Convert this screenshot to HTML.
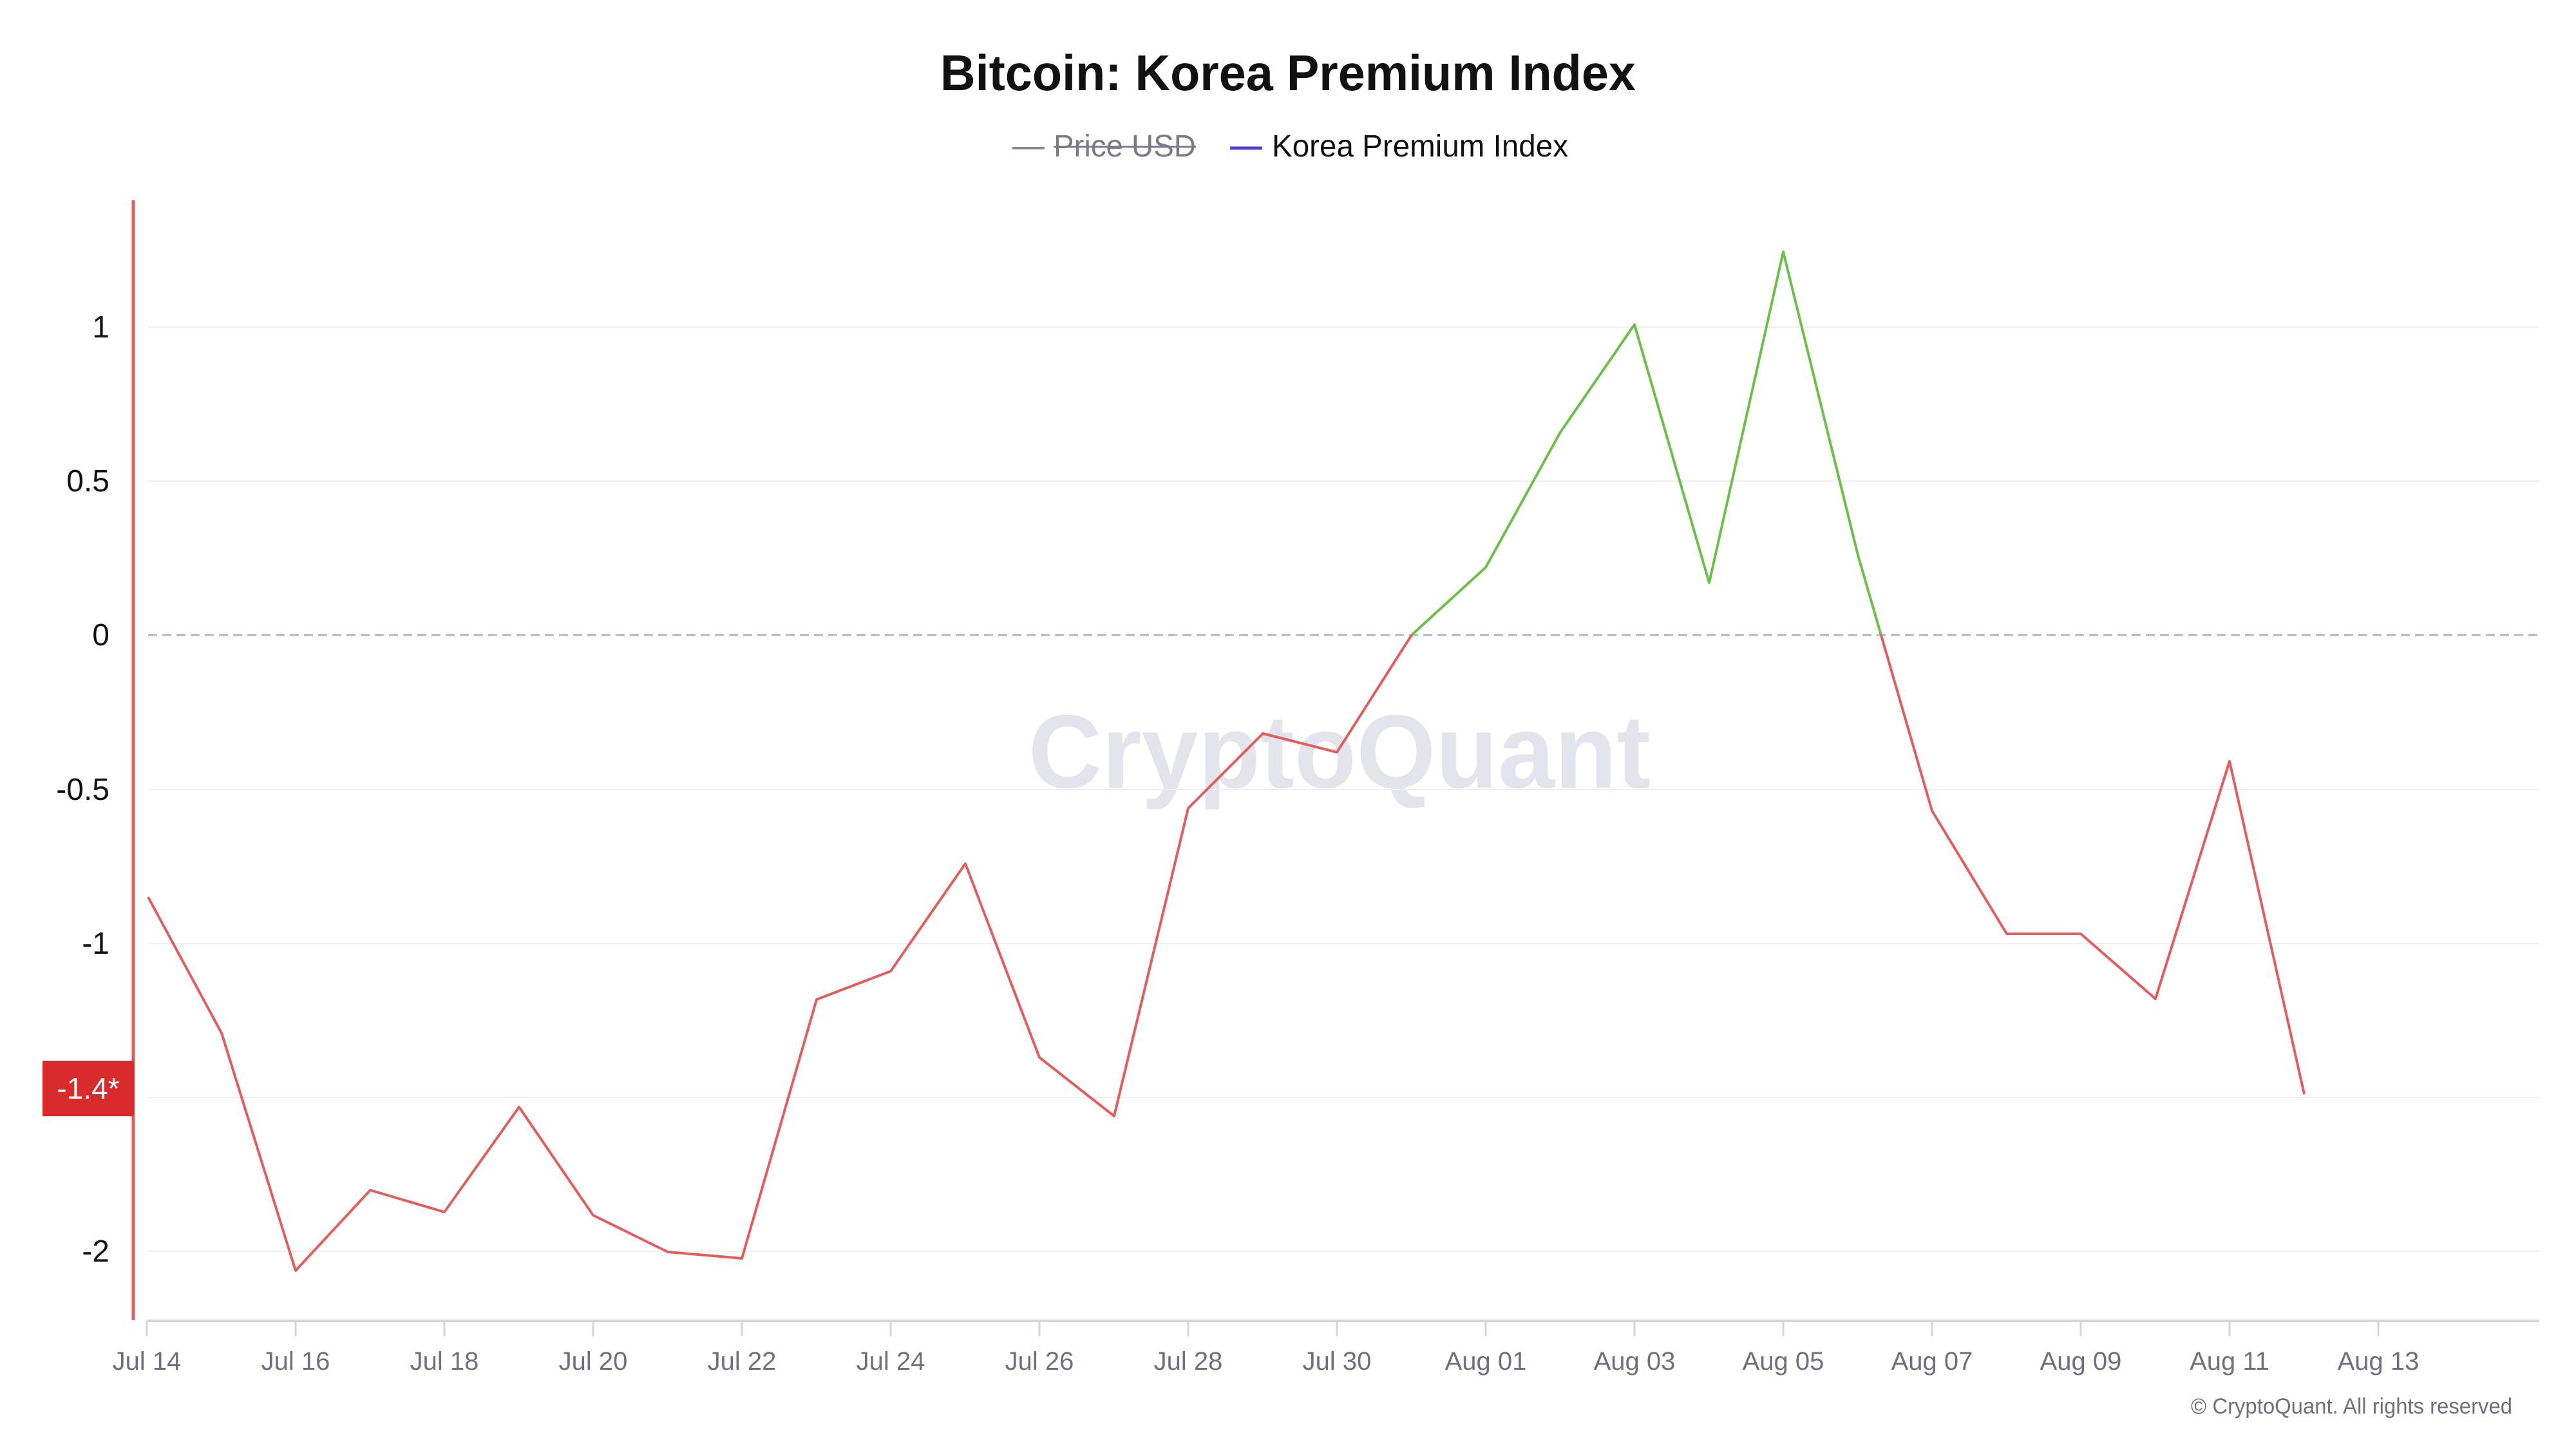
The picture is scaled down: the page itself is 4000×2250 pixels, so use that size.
<!DOCTYPE html>
<html><head><meta charset="utf-8"><style>html,body{margin:0;padding:0;background:#fff}svg{display:block}</style></head>
<body>
<svg width="4000" height="2250" viewBox="0 0 4000 2250" xmlns="http://www.w3.org/2000/svg" font-family="Liberation Sans, sans-serif">
<defs>
<clipPath id="above"><rect x="0" y="0" width="4000" height="986"/></clipPath>
<clipPath id="below"><rect x="0" y="986" width="4000" height="1300"/></clipPath>
</defs>
<text x="2000" y="140" text-anchor="middle" font-size="78" font-weight="bold" fill="#111" textLength="1080" lengthAdjust="spacingAndGlyphs">Bitcoin: Korea Premium Index</text>
<line x1="1572" y1="230" x2="1622" y2="230" stroke="#888894" stroke-width="4"/>
<text x="1636" y="243" font-size="48" fill="#7a7a88" textLength="221" lengthAdjust="spacingAndGlyphs">Price USD</text>
<line x1="1636" y1="228" x2="1857" y2="228" stroke="#7a7a88" stroke-width="3"/>
<line x1="1910" y1="230" x2="1960" y2="230" stroke="#4b3ee0" stroke-width="5"/>
<text x="1975" y="243" font-size="48" fill="#111" textLength="460" lengthAdjust="spacingAndGlyphs">Korea Premium Index</text>
<text x="2080" y="1223" text-anchor="middle" font-size="162" font-weight="bold" fill="#e4e4ec" textLength="966" lengthAdjust="spacingAndGlyphs">CryptoQuant</text>
<g stroke="#f0f0f3" stroke-width="2">
<line x1="230" y1="508" x2="3943" y2="508"/>
<line x1="230" y1="747" x2="3943" y2="747"/>
<line x1="230" y1="1226" x2="3943" y2="1226"/>
<line x1="230" y1="1465" x2="3943" y2="1465"/>
<line x1="230" y1="1704" x2="3943" y2="1704"/>
<line x1="230" y1="1943" x2="3943" y2="1943"/>
</g>
<line x1="230" y1="986" x2="3943" y2="986" stroke="#b4b4c4" stroke-width="3" stroke-dasharray="14,8"/>
<g font-size="48" fill="#111" text-anchor="end">
<text x="170" y="524">1</text>
<text x="170" y="763">0.5</text>
<text x="170" y="1002">0</text>
<text x="170" y="1242">-0.5</text>
<text x="170" y="1481">-1</text>
<text x="170" y="1959">-2</text>
</g>
<line x1="228" y1="2051" x2="3943" y2="2051" stroke="#d4d4de" stroke-width="4"/>
<g stroke="#d4d4de" stroke-width="3">
<line x1="228" y1="2051" x2="228" y2="2075"/><line x1="459" y1="2051" x2="459" y2="2075"/><line x1="690" y1="2051" x2="690" y2="2075"/><line x1="921" y1="2051" x2="921" y2="2075"/><line x1="1152" y1="2051" x2="1152" y2="2075"/><line x1="1383" y1="2051" x2="1383" y2="2075"/><line x1="1614" y1="2051" x2="1614" y2="2075"/><line x1="1845" y1="2051" x2="1845" y2="2075"/><line x1="2076" y1="2051" x2="2076" y2="2075"/><line x1="2307" y1="2051" x2="2307" y2="2075"/><line x1="2538" y1="2051" x2="2538" y2="2075"/><line x1="2769" y1="2051" x2="2769" y2="2075"/><line x1="3000" y1="2051" x2="3000" y2="2075"/><line x1="3231" y1="2051" x2="3231" y2="2075"/><line x1="3462" y1="2051" x2="3462" y2="2075"/><line x1="3693" y1="2051" x2="3693" y2="2075"/>
</g>
<g font-size="40" fill="#6f6f80" text-anchor="middle">
<text x="228" y="2127">Jul 14</text><text x="459" y="2127">Jul 16</text><text x="690" y="2127">Jul 18</text><text x="921" y="2127">Jul 20</text><text x="1152" y="2127">Jul 22</text><text x="1383" y="2127">Jul 24</text><text x="1614" y="2127">Jul 26</text><text x="1845" y="2127">Jul 28</text><text x="2076" y="2127">Jul 30</text><text x="2307" y="2127">Aug 01</text><text x="2538" y="2127">Aug 03</text><text x="2769" y="2127">Aug 05</text><text x="3000" y="2127">Aug 07</text><text x="3231" y="2127">Aug 09</text><text x="3462" y="2127">Aug 11</text><text x="3693" y="2127">Aug 13</text>
</g>
<text x="3901" y="2195" text-anchor="end" font-size="34" fill="#6f6f80" textLength="499" lengthAdjust="spacingAndGlyphs">© CryptoQuant. All rights reserved</text>
<g fill="none" stroke-width="4" stroke-linejoin="round">
<polyline clip-path="url(#below)" stroke="#e35d5d" points="230,1393 344,1604 459,1973 575,1848 690,1882 806,1719 921,1887 1037,1944 1152,1954 1268,1552 1383,1508 1499,1341 1614,1642 1730,1733 1845,1255 1961,1139 2076,1168 2192,986 2307,881 2423,671 2538,504 2654,905 2769,391 2885,862 3000,1259 3116,1450 3231,1450 3347,1551 3462,1182 3578,1699"/>
<polyline clip-path="url(#above)" stroke="#6cc04a" points="230,1393 344,1604 459,1973 575,1848 690,1882 806,1719 921,1887 1037,1944 1152,1954 1268,1552 1383,1508 1499,1341 1614,1642 1730,1733 1845,1255 1961,1139 2076,1168 2192,986 2307,881 2423,671 2538,504 2654,905 2769,391 2885,862 3000,1259 3116,1450 3231,1450 3347,1551 3462,1182 3578,1699"/>
</g>
<line x1="207" y1="311" x2="207" y2="2050" stroke="#e06060" stroke-width="5"/>
<rect x="66" y="1647" width="142" height="86" fill="#d92b2b"/>
<text x="137" y="1706" text-anchor="middle" font-size="46" fill="#fff">-1.4*</text>
</svg>
</body></html>
